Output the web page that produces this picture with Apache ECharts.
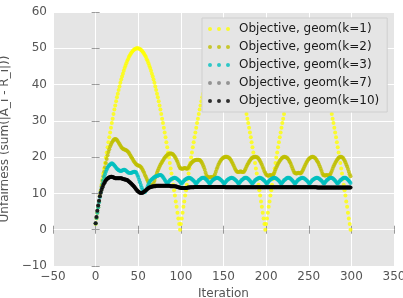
<!DOCTYPE html>
<html>
<head>
<meta charset="utf-8">
<script src="https://cdn.jsdelivr.net/npm/echarts@6/dist/echarts.min.js"></script>
<style>
html, body { margin: 0; padding: 0; background: #fff; }
#chart { width: 403px; height: 298px; }
</style>
</head>
<body>
<div id="chart"></div>
<script>
// values, one per iteration (0..299)
var seriesNames = ['Objective, geom(k=1)', 'Objective, geom(k=2)', 'Objective, geom(k=3)', 'Objective, geom(k=7)', 'Objective, geom(k=10)'];
var seriesColors = ['#ffff00', '#bfbf00', '#00bfbf', '#808080', '#000000'];

var objK1 = [
  1.6,3.1,4.7,6.3,7.8,9.4,10.9,12.4,13.9,15.5,
  16.9,18.4,19.9,21.3,22.7,24.1,25.5,26.8,28.1,29.4,
  30.6,31.9,33.1,34.2,35.4,36.5,37.5,38.5,39.5,40.5,
  41.4,42.2,43.0,43.8,44.6,45.2,45.9,46.5,47.0,47.6,
  48.0,48.4,48.8,49.1,49.4,49.6,49.8,49.9,50.0,50.0,
  50.0,49.9,49.8,49.6,49.4,49.1,48.8,48.4,48.0,47.6,
  47.0,46.5,45.9,45.2,44.6,43.8,43.0,42.2,41.4,40.5,
  39.5,38.5,37.5,36.5,35.4,34.2,33.1,31.9,30.6,29.4,
  28.1,26.8,25.5,24.1,22.7,21.3,19.9,18.4,16.9,15.5,
  13.9,12.4,10.9,9.4,7.8,6.3,4.7,3.1,1.6,0.0,
  1.6,3.1,4.7,6.3,7.8,9.4,10.9,12.4,13.9,15.5,
  16.9,18.4,19.9,21.3,22.7,24.1,25.5,26.8,28.1,29.4,
  30.6,31.9,33.1,34.2,35.4,36.5,37.5,38.5,39.5,40.5,
  41.4,42.2,43.0,43.8,44.6,45.2,45.9,46.5,47.0,47.6,
  48.0,48.4,48.8,49.1,49.4,49.6,49.8,49.9,50.0,50.0,
  50.0,49.9,49.8,49.6,49.4,49.1,48.8,48.4,48.0,47.6,
  47.0,46.5,45.9,45.2,44.6,43.8,43.0,42.2,41.4,40.5,
  39.5,38.5,37.5,36.5,35.4,34.2,33.1,31.9,30.6,29.4,
  28.1,26.8,25.5,24.1,22.7,21.3,19.9,18.4,16.9,15.5,
  13.9,12.4,10.9,9.4,7.8,6.3,4.7,3.1,1.6,0.0,
  1.6,3.1,4.7,6.3,7.8,9.4,10.9,12.4,13.9,15.5,
  16.9,18.4,19.9,21.3,22.7,24.1,25.5,26.8,28.1,29.4,
  30.6,31.9,33.1,34.2,35.4,36.5,37.5,38.5,39.5,40.5,
  41.4,42.2,43.0,43.8,44.6,45.2,45.9,46.5,47.0,47.6,
  48.0,48.4,48.8,49.1,49.4,49.6,49.8,49.9,50.0,50.0,
  50.0,49.9,49.8,49.6,49.4,49.1,48.8,48.4,48.0,47.6,
  47.0,46.5,45.9,45.2,44.6,43.8,43.0,42.2,41.4,40.5,
  39.5,38.5,37.5,36.5,35.4,34.2,33.1,31.9,30.6,29.4,
  28.1,26.8,25.5,24.1,22.7,21.3,19.9,18.4,16.9,15.5,
  13.9,12.4,10.9,9.4,7.8,6.3,4.7,3.1,1.6,0.0
];

var objK2 = [
  1.7,3.2,4.7,6.2,7.7,9.2,10.6,12.0,13.4,14.7,
  16.0,17.2,18.4,19.5,20.5,21.4,22.2,22.9,23.5,24.0,
  24.4,24.7,24.9,25.0,24.9,24.7,24.4,24.0,23.6,23.2,
  22.8,22.5,22.3,22.2,22.1,22.0,21.9,21.7,21.5,21.2,
  20.8,20.4,20.0,19.6,19.2,18.8,18.5,18.2,18.0,17.8,
  17.7,17.6,17.5,17.3,17.0,16.6,16.1,15.6,15.0,14.5,
  14.0,13.5,13.1,12.7,12.4,12.2,12.1,12.3,12.8,13.5,
  14.3,15.0,15.7,16.3,16.9,17.4,17.9,18.3,18.7,19.1,
  19.5,19.8,20.1,20.4,20.6,20.8,20.9,21.0,21.0,21.0,
  20.9,20.7,20.4,20.1,19.7,19.2,18.7,18.1,17.5,17.0,
  16.9,16.8,16.8,16.9,17.0,17.0,16.9,16.8,16.9,17.2,
  17.6,18.0,18.3,18.6,18.8,19.0,19.1,19.2,19.3,19.3,
  19.3,19.3,19.2,19.0,18.7,18.3,17.8,17.2,16.5,15.7,
  15.0,14.6,14.5,14.4,14.4,14.5,14.5,14.4,14.5,14.7,
  15.3,16.0,16.7,17.3,17.9,18.4,18.8,19.2,19.5,19.7,
  19.9,20.0,20.1,20.1,20.1,20.0,19.9,19.7,19.4,19.0,
  18.6,18.1,17.6,17.1,16.6,16.2,16.0,15.9,15.9,16.0,
  16.1,16.0,15.9,15.9,16.0,16.4,16.9,17.4,17.9,18.3,
  18.7,19.1,19.4,19.7,19.9,20.0,20.1,20.1,20.1,20.0,
  19.9,19.6,19.3,18.9,18.4,17.9,17.3,16.7,16.1,15.6,
  15.2,15.0,14.9,14.9,15.0,15.1,15.0,14.9,15.0,15.4,
  16.0,16.6,17.2,17.7,18.2,18.6,19.0,19.3,19.6,19.8,
  20.0,20.1,20.1,20.0,19.9,19.7,19.4,19.0,18.6,18.1,
  17.5,16.9,16.3,15.8,15.6,15.5,15.5,15.6,15.7,15.6,
  15.5,15.6,15.9,16.4,16.9,17.4,17.9,18.4,18.8,19.2,
  19.5,19.7,19.9,20.0,20.1,20.1,20.0,19.8,19.6,19.3,
  18.9,18.5,18.0,17.4,16.8,16.2,15.5,15.1,15.0,14.9,
  15.0,15.1,15.0,14.9,15.0,15.2,15.6,16.2,16.8,17.4,
  17.9,18.4,18.8,19.2,19.5,19.8,20.0,20.1,20.1,20.0,
  19.8,19.5,19.1,18.6,18.0,17.4,16.7,16.0,15.3,14.7
];

var objK3 = [
  1.7,3.2,4.7,6.2,7.6,9.0,10.3,11.5,12.6,13.6,
  14.5,15.3,16.0,16.6,17.1,17.5,17.8,18.0,18.2,18.3,
  18.2,18.0,17.7,17.4,17.1,16.8,16.6,16.4,16.3,16.2,
  16.2,16.3,16.4,16.5,16.5,16.4,16.2,16.0,15.8,15.7,
  15.6,15.6,15.7,15.8,15.9,16.0,16.0,15.9,15.6,15.1,
  14.5,13.8,13.1,12.3,11.6,11.0,10.5,10.3,10.4,10.8,
  11.3,11.9,12.5,13.0,13.4,13.7,13.9,14.1,14.3,14.5,
  14.6,14.7,14.8,14.9,15.0,15.1,15.1,15.0,14.8,14.5,
  14.2,13.8,13.4,13.0,
  12.7,13.0,13.3,13.6,13.8,14.0,14.1,14.2,14.3,14.3,14.2,14.1,13.9,13.7,13.5,13.2,12.9,
  12.7,13.0,13.3,13.6,13.8,14.0,14.1,14.2,14.3,14.3,14.2,14.1,13.9,13.7,13.5,13.2,12.9,
  12.7,13.0,13.3,13.6,13.8,14.0,14.2,14.3,14.3,14.3,14.2,14.0,13.8,13.5,13.2,12.9,
  12.7,13.0,13.3,13.6,13.8,14.0,14.1,14.2,14.3,14.3,14.2,14.1,13.9,13.7,13.5,13.2,12.9,
  12.7,13.0,13.3,13.6,13.8,14.0,14.1,14.2,14.3,14.3,14.2,14.1,13.9,13.7,13.5,13.2,12.9,
  12.7,13.0,13.3,13.6,13.8,14.0,14.2,14.3,14.3,14.3,14.2,14.0,13.8,13.5,13.2,12.9,
  12.7,13.0,13.3,13.6,13.8,14.0,14.1,14.2,14.3,14.3,14.2,14.1,13.9,13.7,13.5,13.2,12.9,
  12.7,13.0,13.3,13.6,13.8,14.0,14.1,14.2,14.3,14.3,14.2,14.1,13.9,13.7,13.5,13.2,12.9,
  12.7,13.0,13.3,13.6,13.8,14.0,14.2,14.3,14.3,14.3,14.2,14.0,13.8,13.5,13.2,12.9,
  12.7,13.0,13.3,13.6,13.8,14.0,14.1,14.2,14.3,14.3,14.2,14.1,13.9,13.7,13.5,13.2,12.9,
  12.7,13.0,13.3,13.6,13.8,14.0,14.1,14.2,14.3,14.3,14.2,14.1,13.9,13.7,13.5,13.2,12.9,
  12.7,13.0,13.3,13.6,13.8,14.0,14.2,14.3,14.3,14.3,14.2,14.0,13.8,13.5,13.2,12.9,
  12.7,13.0,13.3,13.6,13.8,14.0,14.2,14.3,14.3,14.3,14.2,14.0,13.8,13.5,13.2,12.9
];

var objK10 = [
  1.8,3.5,5.2,6.7,8.0,9.2,10.2,11.0,11.7,12.3,
  12.8,13.2,13.6,13.9,14.1,14.3,14.4,14.5,14.6,14.6,
  14.5,14.4,14.3,14.2,14.2,14.2,14.2,14.2,14.2,14.2,
  14.2,14.1,14.0,13.9,13.9,13.8,13.8,13.7,13.5,13.3,
  13.1,12.9,12.7,12.4,12.2,11.9,11.6,11.3,11.0,10.7,
  10.5,10.3,10.2,10.1,10.1,10.2,10.3,10.5,10.7,10.9,
  11.1,11.3,11.5,11.6,11.7,11.8,11.9,11.9,12.0,12.0,
  12.0,12.1,12.1,12.1,12.1,12.1,12.1,12.1,12.1,12.1,
  12.1,12.1,12.1,12.1,12.1,12.1,12.1,12.1,12.0,12.0,
  12.0,12.0,12.0,12.0,11.9,11.9,11.8,11.7,11.6,11.6,
  11.5,11.5,11.5,11.5,11.5,11.5,11.5,11.5,11.6,11.6,
  11.6,11.7,11.7,11.7,11.7,11.7,11.8,11.8,11.8,11.8,
  11.8,11.8,11.8,11.8,11.8,11.8,11.8,11.8,11.8,11.8,
  11.8,11.8,11.8,11.8,11.8,11.8,11.8,11.8,11.8,11.8,
  11.8,11.8,11.8,11.8,11.8,11.8,11.8,11.8,11.8,11.8,
  11.8,11.8,11.7,11.7,11.7,11.7,11.7,11.7,11.7,11.7,
  11.7,11.7,11.7,11.7,11.7,11.7,11.7,11.7,11.7,11.7,
  11.7,11.7,11.7,11.7,11.7,11.7,11.7,11.7,11.7,11.7,
  11.7,11.7,11.7,11.7,11.7,11.7,11.7,11.7,11.7,11.7,
  11.7,11.7,11.7,11.7,11.7,11.7,11.7,11.7,11.7,11.7,
  11.7,11.7,11.7,11.7,11.7,11.7,11.7,11.7,11.7,11.7,
  11.7,11.7,11.7,11.7,11.7,11.7,11.7,11.7,11.7,11.7,
  11.7,11.7,11.7,11.7,11.7,11.7,11.7,11.7,11.7,11.7,
  11.7,11.7,11.7,11.7,11.7,11.7,11.7,11.7,11.7,11.7,
  11.7,11.7,11.7,11.7,11.7,11.7,11.7,11.7,11.7,11.7,
  11.7,11.7,11.7,11.7,11.7,11.7,11.7,11.7,11.7,11.7,
  11.6,11.6,11.6,11.6,11.6,11.6,11.6,11.6,11.6,11.6,
  11.6,11.6,11.6,11.6,11.6,11.6,11.6,11.6,11.6,11.6,
  11.6,11.6,11.6,11.6,11.6,11.6,11.6,11.6,11.6,11.6,
  11.6,11.6,11.6,11.6,11.6,11.6,11.6,11.6,11.6,11.6
];

// k=7 sits exactly under k=10 in the figure
var objK7 = objK10.slice();

var allValues = [objK1, objK2, objK3, objK7, objK10];
allValues.forEach(function (arr, i) {
  if (arr.length !== 300) throw new Error(seriesNames[i] + ' has ' + arr.length + ' values');
});

var FONT = 'DejaVu Sans';
var minusFmt = function (v) { return String(v).replace('-', '\u2212'); };
var dotsIcon = 'path://M0,2a2,2 0 1,0 4,0a2,2 0 1,0 -4,0Z' +
  'M9,2a2,2 0 1,0 4,0a2,2 0 1,0 -4,0Z' +
  'M18,2a2,2 0 1,0 4,0a2,2 0 1,0 -4,0Z';

var chart = echarts.init(document.getElementById('chart'));

var tick = { show: true, inside: false, length: 4, lineStyle: { color: '#9a9a9a', width: 1 } };
var label = { color: '#555555', fontFamily: FONT, fontSize: 12, formatter: minusFmt };

var option = {
  animation: false,
  grid: {
    left: 53, right: 9, top: 12, bottom: 32,
    show: true, backgroundColor: '#e5e5e5', borderWidth: 0,
    containLabel: false, outerBoundsMode: 'none'
  },
  legend: {
    orient: 'vertical',
    left: 202, top: 18,
    data: seriesNames,
    icon: dotsIcon,
    itemWidth: 22, itemHeight: 4, itemGap: 4,
    padding: [4, 8, 4, 6],
    backgroundColor: '#e5e5e5',
    borderColor: '#cfcfcf', borderWidth: 1,
    textStyle: { fontFamily: FONT, fontSize: 12, color: '#1a1a1a', lineHeight: 14, padding: [0, 0, 0, 4] }
  },
  xAxis: [{
    type: 'value', position: 'bottom',
    min: -50, max: 350, interval: 50,
    axisLine: { show: false }, axisTick: tick,
    axisLabel: Object.assign({ margin: 5 }, label),
    splitLine: { show: true, lineStyle: { color: '#ffffff', width: 1 } },
    name: 'Iteration', nameLocation: 'middle', nameGap: 18,
    nameTextStyle: { fontFamily: FONT, fontSize: 12, color: '#555555' }
  }, {
    type: 'value', position: 'top',
    min: -50, max: 350, interval: 50,
    axisLine: { show: false }, axisTick: tick,
    axisLabel: { show: false }, splitLine: { show: false }
  }],
  yAxis: [{
    type: 'value', position: 'left',
    min: -10, max: 60, interval: 10,
    axisLine: { show: false }, axisTick: tick,
    axisLabel: Object.assign({ margin: 6 }, label),
    splitLine: { show: true, lineStyle: { color: '#ffffff', width: 1 } },
    name: 'Unfairness (sum(|A_i - R_i|))', nameLocation: 'middle', nameGap: 29,
    nameTextStyle: { fontFamily: FONT, fontSize: 12, color: '#555555' }
  }, {
    type: 'value', position: 'right',
    min: -10, max: 60, interval: 10,
    axisLine: { show: false }, axisTick: tick,
    axisLabel: { show: false }, splitLine: { show: false }
  }],
  series: allValues.map(function (vals, i) {
    return {
      name: seriesNames[i],
      type: 'scatter',
      xAxisIndex: 0, yAxisIndex: 0,
      symbol: 'circle', symbolSize: 4,
      itemStyle: { color: seriesColors[i] },
      data: vals.map(function (v, it) { return [it, v]; })
    };
  })
};

chart.setOption(option);
</script>
</body>
</html>
